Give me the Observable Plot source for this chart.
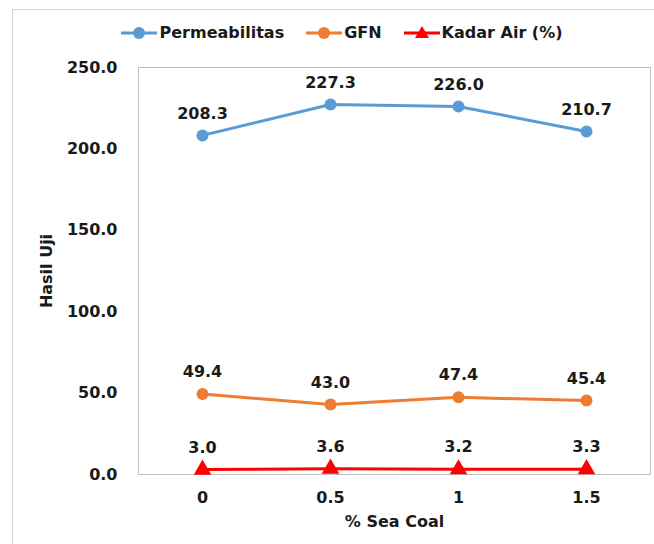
<!DOCTYPE html>
<html>
<head>
<meta charset="utf-8">
<script src="https://cdn.jsdelivr.net/npm/d3@7"></script>
<script src="https://cdn.jsdelivr.net/npm/@observablehq/plot@0.6"></script>
<style>
  html, body { margin: 0; padding: 0; background: #fff; }
  #wrap { position: relative; width: 654px; height: 544px; overflow: hidden; font-family: "DejaVu Sans", sans-serif; }
  #border { position: absolute; left: 12px; top: 9px; width: 700px; height: 600px; border: 1px solid #d4d4d4; box-sizing: border-box; }
  #legend { position: absolute; left: 0; top: 0; width: 654px; height: 55px; display: flex; justify-content: center; align-items: center; gap: 22px; padding-left: 30px; box-sizing: border-box; padding-top: 10px; }
  .item { display: flex; align-items: center; font-weight: bold; font-size: 16px; color: #1a1a1a; }
  .item svg { margin-right: 2px; }
  #chart { position: absolute; left: 0; top: 55px; }
</style>
</head>
<body>
<div id="wrap">
  <div id="border"></div>
  <div id="legend"></div>
  <div id="chart"></div>
</div>
<script>
const categories = ["0", "0.5", "1", "1.5"];
const permeabilitas = [208.3, 227.3, 226.0, 210.7];
const gfn = [49.4, 43.0, 47.4, 45.4];
const kadarAir = [3.0, 3.6, 3.2, 3.3];
const seriesNames = ["Permeabilitas", "GFN", "Kadar Air (%)"];
const seriesColors = ["#5B9BD5", "#ED7D31", "#FF0000"];
const seriesSymbols = ["circle", "circle", "triangle"];
const yTicks = [0, 50, 100, 150, 200, 250];

const seriesValues = [permeabilitas, gfn, kadarAir];
const rows = [];
seriesNames.forEach((name, si) => {
  categories.forEach((c, i) => rows.push({series: name, x: c, y: seriesValues[si][i]}));
});

// Legend
const legend = document.getElementById("legend");
seriesNames.forEach((name, i) => {
  const item = document.createElement("div");
  item.className = "item";
  const marker = seriesSymbols[i] === "circle"
    ? `<circle cx="18" cy="10" r="6" fill="${seriesColors[i]}"/>`
    : `<path d="M18,3 L25,15 L11,15 Z" fill="${seriesColors[i]}"/>`;
  item.innerHTML = `<svg width="36" height="20"><line x1="0" x2="36" y1="10" y2="10" stroke="${seriesColors[i]}" stroke-width="3"/>${marker}</svg><span>${name}</span>`;
  legend.appendChild(item);
});

const font = "DejaVu Sans, sans-serif";
const marks = [
  Plot.frame({stroke: "#bfbfbf"}),
  Plot.axisY({ticks: yTicks, tickFormat: d3.format(".1f"), tickSize: 0, tickPadding: 21,
    fontSize: 16, fontWeight: "bold", fill: "#1a1a1a",
    label: "Hasil Uji", labelAnchor: "center", labelArrow: "none", labelOffset: 98}),
  Plot.axisX({tickSize: 0, tickPadding: 17, fontSize: 16, fontWeight: "bold", fill: "#1a1a1a",
    label: "% Sea Coal", labelAnchor: "center", labelArrow: "none", labelOffset: 52})
];
seriesNames.forEach((name, i) => {
  const data = rows.filter(r => r.series === name);
  marks.push(Plot.line(data, {x: "x", y: "y", stroke: seriesColors[i], strokeWidth: 3}));
  marks.push(Plot.dot(data, {x: "x", y: "y", fill: seriesColors[i], r: seriesSymbols[i] === "circle" ? 6 : 6.5, symbol: seriesSymbols[i]}));
  marks.push(Plot.text(data, {x: "x", y: "y", text: d => d3.format(".1f")(d.y), dy: -22,
    fontSize: 16, fontWeight: "bold", fill: "#1a1a1a"}));
});

const chart = Plot.plot({
  width: 654,
  height: 489,
  marginTop: 12,
  marginBottom: 70,
  marginLeft: 138,
  marginRight: 4,
  style: {fontFamily: font, fontSize: "16px", fontWeight: "bold", color: "#1a1a1a", background: "transparent"},
  x: {type: "point", domain: categories, padding: 0.5},
  y: {domain: [0, 250]},
  marks
});
document.getElementById("chart").appendChild(chart);
</script>
</body>
</html>
